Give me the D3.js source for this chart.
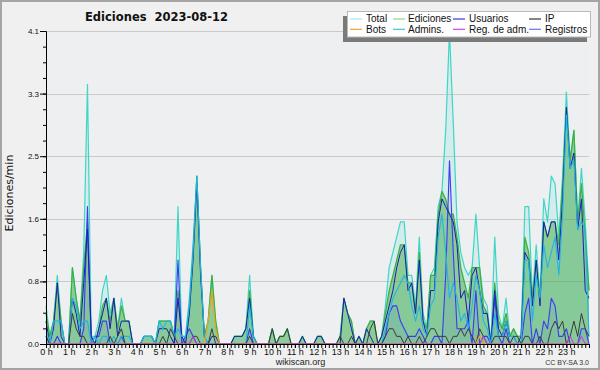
<!DOCTYPE html>
<html><head><meta charset="utf-8">
<script src="https://cdn.jsdelivr.net/npm/d3@7"></script>
<style>body{margin:0;background:#f0f0f0}svg{display:block}</style>
</head><body><svg id="c" width="600" height="370"></svg>
<script>
// Values: edits per minute, one value every 10 minutes (00:00 .. 24:00)
const totalV = [0.5,0.1,0.3,0.9,0.3,0, 0,1.0,0.6,0.3,1.2,3.4, 0.1,0.1,0.3,0.7,0.9,0.4, 0.6,0.2,0.6,0.3,0.3,0,
 0,0,0.1,0.1,0.1,0, 0.3,0.3,0.3,0.3,0.1,1.8, 0.1,0.1,0.6,1.3,2.2,1.0, 0.1,0.3,0.9,0.3,0,0,
 0,0,0.1,0.1,0.1,0.2, 0.9,0.1,0,0,0,0, 0.2,0,0.1,0.1,0.2,0, 0,0,0.1,0,0,0,
 0.1,0.1,0,0,0,0, 0.1,0.6,0.4,0.3,0,0.1, 0,0.2,0.3,0.3,0,0.1, 0.5,1.0,1.2,1.4,1.6,1.6,
 0.9,0.9,0.5,1.4,0.4,0.2, 0.9,1.0,1.8,2.0,2.8,4.1, 2.9,1.6,1.2,1.0,0.9,1.0, 1.7,1.0,0.6,0.5,0,1.4,
 0.4,0.2,0.6,0.1,0.2,0.1, 0.1,1.8,1.8,0.6,1.3,0.6, 1.9,1.6,2.2,2.1,1.4,2.2, 3.3,2.4,2.8,1.6,2.3,1.6, 0.7];
const edicionesV = [0.4,0.1,0.3,0.8,0.3,0, 0,1.0,0.6,0.3,1.0,1.6, 0.1,0,0.2,0.5,0.6,0.3, 0.6,0.2,0.5,0.3,0.3,0,
 0,0,0.1,0.1,0.1,0, 0.3,0.3,0.3,0.3,0.1,0.7, 0.1,0,0.4,1.2,2.2,1.0, 0.1,0.3,0.9,0.3,0,0,
 0,0,0.1,0.1,0.1,0.2, 0.7,0.1,0,0,0,0, 0.2,0,0.1,0.1,0.2,0, 0,0,0.1,0,0,0,
 0.1,0.1,0,0,0,0, 0.1,0.6,0.4,0.3,0,0.1, 0,0.2,0.3,0.3,0,0.1, 0.4,0.7,0.9,1.1,1.3,1.3,
 0.8,0.8,0.4,1.2,0.3,0.2, 0.9,0.9,1.7,2.0,1.9,1.7, 1.7,1.4,1.0,0.8,0.6,1.0, 1.0,1.0,0.5,0.4,0,0.8,
 0.3,0.2,0.4,0.1,0.2,0.1, 0.1,1.4,1.2,0.6,1.1,0.6, 1.6,1.4,1.6,1.6,1.3,2.1, 3.1,2.4,2.8,1.6,2.1,1.4, 0.7];
const usuariosV = [0.3,0,0.2,0.8,0.1,0, 0,0.6,0.4,0.1,0.8,1.5, 0.1,0,0.2,0.4,0.6,0.2, 0.6,0.1,0.3,0.3,0.3,0,
 0,0,0.1,0.1,0.1,0, 0.2,0.2,0.2,0.1,0,0.6, 0.1,0,0.4,1.1,2.1,0.9, 0.1,0,0.1,0.1,0,0,
 0,0,0.1,0.1,0.1,0.2, 0.6,0.1,0,0,0,0, 0,0,0,0,0,0, 0,0,0.1,0,0,0,
 0.1,0.1,0,0,0,0, 0,0.6,0.4,0.2,0,0.1, 0,0.2,0.1,0,0,0.1, 0.3,0.5,0.7,1.0,1.2,1.3,
 0.7,0.8,0.4,1.1,0.3,0.1, 0.7,0.7,1.6,1.9,1.8,1.7, 1.6,1.3,0.6,0.7,0.3,0.9, 1.0,0.7,0.4,0.4,0,0.7,
 0.2,0.1,0.3,0.1,0.1,0, 0.1,1.2,1.1,0.5,1.1,0.5, 1.6,1.4,1.6,1.6,1.1,1.9, 3.1,2.3,2.5,1.5,1.9,0.7, 0.6];
const ipV = [0.1,0,0,0,0,0, 0,0.4,0.2,0.1,0.1,0, 0,0,0,0,0,0.1, 0,0.1,0.2,0,0,0,
 0,0,0,0,0,0, 0,0.1,0,0.2,0.1,0, 0,0,0,0.1,0.1,0, 0,0,0.2,0,0,0,
 0,0,0,0,0,0, 0.1,0,0,0,0,0, 0.2,0,0.1,0.1,0.2,0, 0,0,0,0,0,0,
 0,0,0,0,0,0, 0.1,0,0,0.1,0,0, 0,0,0.2,0.3,0,0, 0.1,0.2,0.2,0.1,0.1,0,
 0.1,0,0,0.1,0,0.1, 0.2,0.2,0.1,0.1,0.1,0, 0.1,0.1,0.2,0.1,0.2,0.1, 0,0.2,0.1,0,0,0.1,
 0.1,0.1,0.1,0,0.1,0.1, 0,0.1,0.1,0,0,0.1, 0,0,0.2,0.3,0.2,0.3, 0,0.1,0.3,0.1,0.4,0.2, 0.1];
const botsV = [0,0,0,0,0,0, 0,0,0,0,0,0, 0,0,0,0,0,0, 0,0,0,0,0,0,
 0,0,0,0,0,0, 0,0,0,0,0,0, 0,0,0,0,0,0, 0,0.3,0.7,0.2,0,0,
 0,0,0,0,0,0, 0,0,0,0,0,0, 0,0,0,0,0,0, 0,0,0,0,0,0,
 0,0,0,0,0,0, 0,0,0,0,0,0, 0,0,0,0,0,0, 0,0,0,0,0,0,
 0,0,0,0,0,0, 0,0,0,0,0,0, 0,0,0,0,0,0, 0,0.1,0,0,0,0,
 0,0,0,0,0,0, 0,0,0,0,0,0, 0,0,0,0,0,0, 0,0,0,0,0,0, 0];
const adminsV = [0.2,0,0.3,0.3,0.3,0, 0,0.6,0.5,0.2,0.3,0.3, 0,0.1,0,0.1,0.1,0, 0.1,0,0.1,0.1,0.1,0,
 0,0,0.1,0.1,0.1,0, 0.3,0.2,0.3,0.3,0.1,0.2, 0.1,0.1,0.5,1.2,2.2,1.0, 0.1,0,0,0,0,0,
 0,0,0,0,0,0, 0.5,0.1,0,0,0,0, 0,0,0,0,0,0, 0,0,0,0,0,0,
 0,0,0,0,0,0, 0,0,0,0,0,0, 0,0,0,0,0,0, 0.2,0.4,0.6,0.7,0.8,0.9,
 0.8,0.5,0.3,0.5,0.2,0.1, 0.5,0.6,1.4,1.7,1.2,0.6, 0.8,0.6,0.3,0.4,0.2,0.5, 0.9,0.7,0.3,0.2,0,0.4,
 0.1,0.1,0.3,0.1,0.1,0, 0,1.1,1.1,0.3,0.9,0.6, 1.3,1.0,1.2,1.4,0.9,1.7, 3.0,2.3,2.4,1.5,1.6,1.5, 0.1];
const regAdmV = [0,0,0,0,0,0, 0,0,0,0,0,0, 0,0,0,0,0,0, 0,0,0,0,0,0,
 0,0,0,0,0,0, 0,0,0,0,0,0, 0,0,0,0.1,0,0, 0,0,0,0,0,0,
 0,0,0,0,0,0, 0,0,0,0,0,0, 0,0,0,0,0,0, 0,0,0,0,0,0,
 0,0,0,0,0,0, 0,0,0,0,0,0, 0,0,0,0,0,0, 0,0,0,0,0,0,
 0,0,0,0,0,0, 0,0,0,0,0,0, 0,0,0,0,0,0, 0,0,0.1,0,0,0,
 0,0,0,0,0,0, 0,0,0,0,0,0, 0,0,0,0,0,0, 0,0.1,0,0,0.1,0, 0];
const registrosV = [0.1,0,0,0.1,0,0, 0,0,0,0,0.2,1.8, 0,0.1,0.1,0.3,0.3,0, 0,0,0.1,0,0,0,
 0,0,0,0,0,0, 0,0,0,0,0,1.1, 0,0.1,0.2,0.1,0,0, 0,0,0,0,0,0,
 0,0,0,0,0,0, 0.2,0,0,0,0,0, 0,0,0,0,0,0, 0,0,0,0,0,0,
 0,0,0,0,0,0, 0,0,0,0,0,0, 0,0,0,0,0,0, 0.1,0.4,0.5,0.5,0.3,0.2,
 0.1,0.1,0.1,0.2,0.1,0, 0,0.1,0.1,0,0.9,2.4, 1.2,0.2,0.2,0.2,0.3,0, 0.7,0,0.1,0.1,0,0.6,
 0.1,0,0.2,0,0,0, 0,0.4,0.6,0,0.2,0, 0.3,0.2,0.6,0.5,0.1,0.1, 0.2,0,0,0,0.2,0.2, 0];

const hourLabels = ["0 h","1 h","2 h","3 h","4 h","5 h","6 h","7 h","8 h","9 h","10 h","11 h",
 "12 h","13 h","14 h","15 h","16 h","17 h","18 h","19 h","20 h","21 h","22 h","23 h"];
const yTickValues = [0, 0.82, 1.64, 2.46, 3.28, 4.1];
const yTickLabels = ["0.0","0.8","1.6","2.5","3.3","4.1"];
const legendNames = ["Total","Ediciones","Usuarios","IP","Bots","Admins.","Reg. de adm.","Registros"];

const svg = d3.select("#c");
const X0=46, X1=589, Y0=344, Y1=31;
const x = d3.scaleLinear().domain([0,1440]).range([X0,X1]);
const y = d3.scaleLinear().domain([0,4.1]).range([Y0,Y1]);

svg.append("rect").attr("x",1).attr("y",1).attr("width",598).attr("height",368)
  .attr("fill","#f0f0f0").attr("stroke","#a4a4a4").attr("stroke-width",2);
svg.append("rect").attr("x",X0).attr("y",Y1).attr("width",X1-X0).attr("height",Y0-Y1).attr("fill","#edeff1");

// grid
svg.append("g").selectAll("line").data(yTickValues.slice(1)).join("line")
  .attr("x1",X0).attr("x2",X1).attr("y1",d=>Math.round(y(d))+0.5).attr("y2",d=>Math.round(y(d))+0.5)
  .attr("stroke","#cacaca").attr("stroke-width",1);

const tx = (d,i)=>x(i*10);
const area = d3.area().x(tx).y0(Y0).y1(d=>y(d));
const line = d3.line().x(tx).y(d=>y(d));

const series = [
  {v: totalV, stroke:"#3fd6c6", fill:"rgba(70,220,205,0.14)", w:1.2},
  {v: edicionesV, stroke:"#3cb03c", fill:"rgba(52,165,50,0.46)", w:1.2},
  {v: registrosV, stroke:"#3b3bf2", fill:"rgba(50,50,240,0.07)", w:1.1},
  {v: usuariosV, stroke:"#1c1cb8", fill:null, w:1.0},
  {v: adminsV, stroke:"#22b4e4", fill:"rgba(20,150,220,0.04)", w:1.1},
  {v: ipV, stroke:"#3c3c3c", fill:null, w:1},
  {v: botsV, stroke:"#f0a020", fill:null, w:1.2},
  {v: regAdmV, stroke:"#c834dc", fill:null, w:1}
];
const g = svg.append("g");
series.forEach(s=>{
  if(s.fill) g.append("path").attr("d",area(s.v)).attr("fill",s.fill);
});
series.forEach(s=>{
  g.append("path").attr("d",line(s.v)).attr("fill","none").attr("stroke",s.stroke)
   .attr("stroke-width",s.w).attr("stroke-linejoin","round");
});

// axes
const fontS = "Liberation Sans, Arial, sans-serif";
const yMinor = d3.range(0,21).map(k=>k*4.1/20);
svg.append("g").attr("transform",`translate(${X0},0)`)
  .call(d3.axisLeft(y).tickValues(yMinor).tickSize(3).tickFormat("").tickSizeOuter(0));
const ya = svg.append("g").attr("transform",`translate(${X0},0)`)
  .call(d3.axisLeft(y).tickValues(yTickValues).tickFormat((d,i)=>yTickLabels[i]).tickSize(6).tickPadding(1).tickSizeOuter(0));
ya.selectAll("text").attr("font-family",fontS).attr("font-size",8).attr("fill","#111");

const xMinor = d3.range(0,145).map(k=>k*10);
svg.append("g").attr("transform",`translate(0,${Y0})`)
  .call(d3.axisBottom(x).tickValues(xMinor).tickSize(4).tickFormat("").tickSizeOuter(0));
const xa = svg.append("g").attr("transform",`translate(0,${Y0})`)
  .call(d3.axisBottom(x).tickValues(hourLabels.map((_,i)=>i*60)).tickFormat((d,i)=>hourLabels[i]).tickSize(4).tickPadding(1).tickSizeOuter(0));
xa.selectAll("text").attr("font-family",fontS).attr("font-size",9).attr("fill","#111");
svg.selectAll(".domain").attr("stroke","#000");
svg.selectAll(".tick line").attr("stroke","#000");

// texts
svg.append("text").attr("x",85).attr("y",21).attr("font-family","DejaVu Sans, sans-serif")
  .attr("font-weight","bold").attr("font-size",11.5).attr("fill","#111")
  .style("white-space","pre").text("Ediciones  2023-08-12");
svg.append("text").attr("transform","translate(13,193) rotate(-90)").attr("text-anchor","middle")
  .attr("font-family","DejaVu Sans, sans-serif").attr("font-size",11).attr("fill","#111").text("Ediciones/min");
svg.append("text").attr("x",300.5).attr("y",365).attr("text-anchor","middle")
  .attr("font-family",fontS).attr("font-size",9).attr("fill","#222").text("wikiscan.org");
svg.append("text").attr("x",589).attr("y",365).attr("text-anchor","end")
  .attr("font-family",fontS).attr("font-size",7).attr("fill","#333").text("CC BY-SA 3.0");

// legend
const lg = svg.append("g");
lg.append("rect").attr("x",343).attr("y",16).attr("width",244).attr("height",26).attr("fill","#7a7a7a");
lg.append("rect").attr("x",347.5).attr("y",11.5).attr("width",243).attr("height",25.5).attr("fill","#fff").attr("stroke","#b8b8b8");
const legColors = ["#a6e6e4","#8fd48f","#3a3ad8","#333333","#f4a030","#34c6e0","#cc44e0","#7272f0"];
const colSw = [350,393,453,529], colTx = [366,408,469,545];
legendNames.forEach((n,i)=>{
  const c = i%4, r = Math.floor(i/4);
  const yy = 19 + r*10.3;
  lg.append("line").attr("x1",colSw[c]).attr("x2",colSw[c]+12).attr("y1",yy).attr("y2",yy)
    .attr("stroke",legColors[i]).attr("stroke-width",1.2);
  lg.append("text").attr("x",colTx[c]).attr("y",yy+3.4).attr("font-family",fontS).attr("font-size",10)
    .attr("fill","#111").text(n);
});
</script></body></html>
